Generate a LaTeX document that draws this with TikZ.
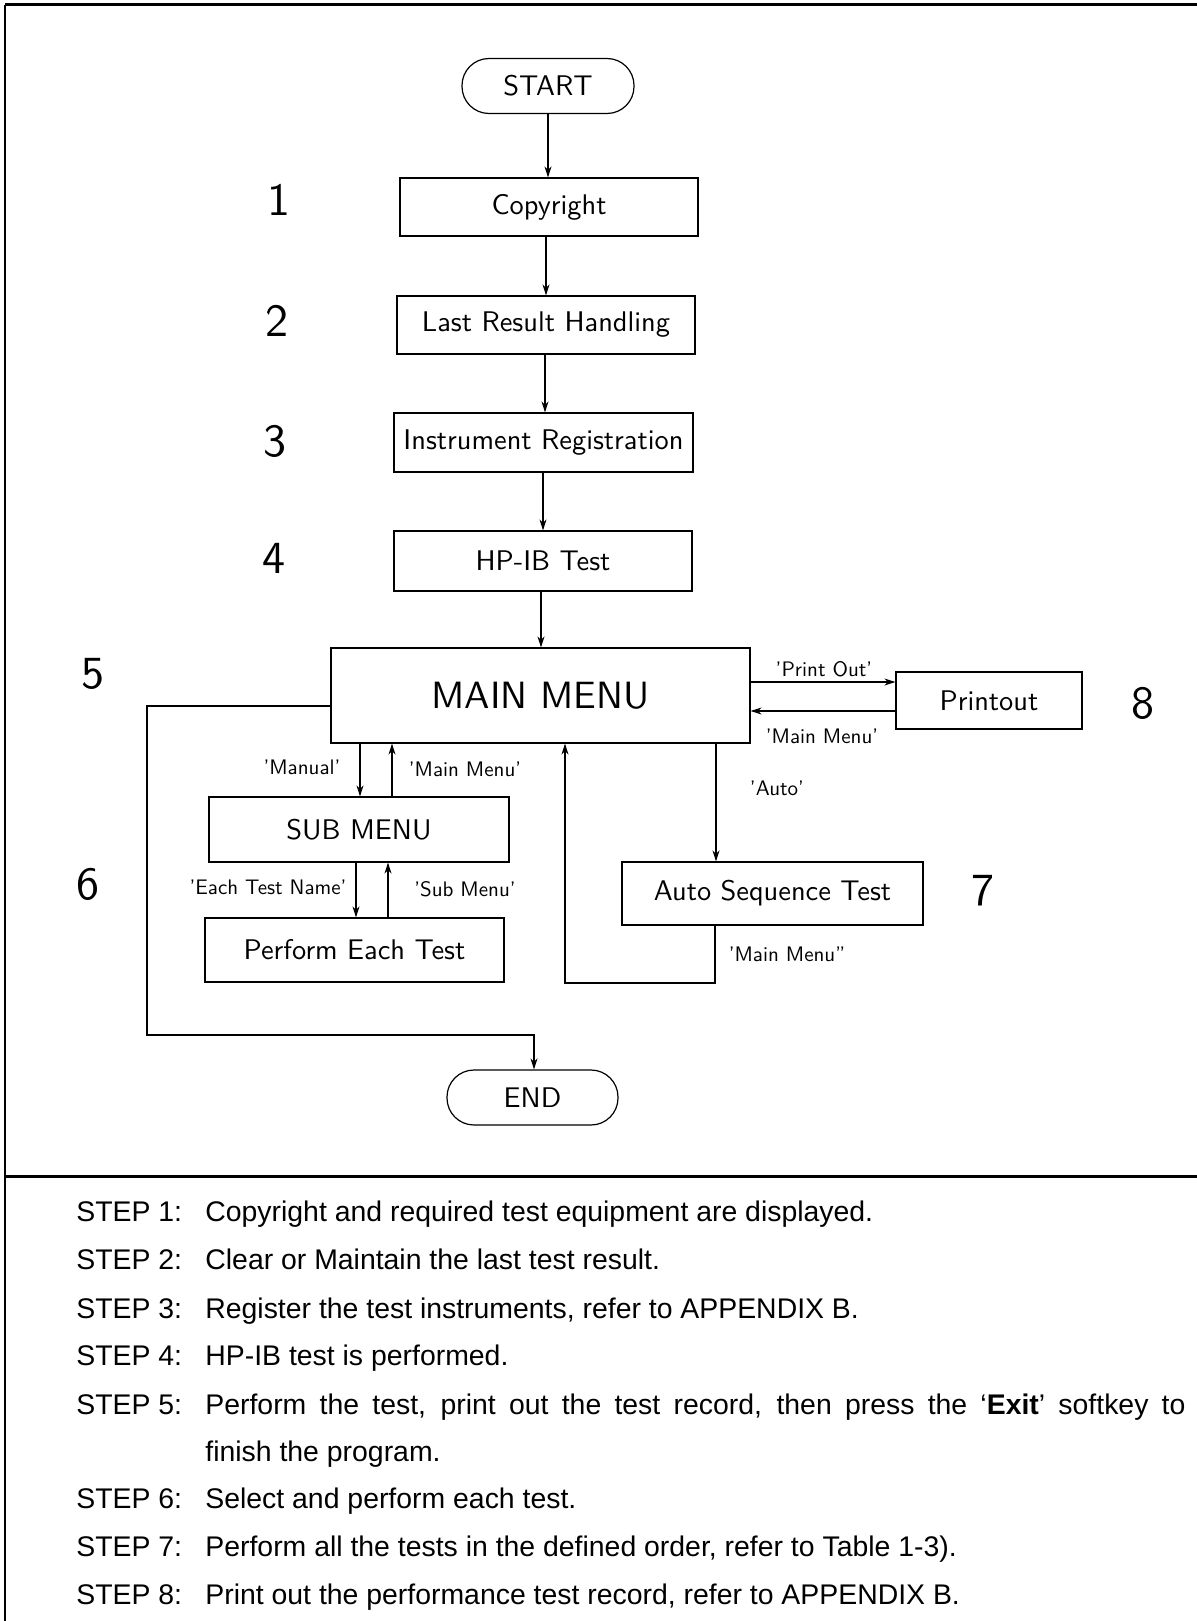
\documentclass[tikz,border=0pt]{standalone}
\usepackage{fontspec}
\setmainfont{Liberation Sans}
\newfontfamily\diag{lmsans10-regular}[Extension=.otf, Ligatures=TeX]
\usetikzlibrary{arrows.meta}
\tikzset{
  box/.style={draw, line width=0.6pt, inner sep=0pt, font=\diag\fontsize{14.2}{16}\selectfont},
  term/.style={box, rounded corners=13.5pt},
  lbl/.style={font=\diag\fontsize{10.5}{12}\selectfont, inner sep=0pt},
  num/.style={font=\diag\fontsize{23}{26}\selectfont, inner sep=0pt},
  arr/.style={-{Stealth[length=5.5pt,width=3.5pt]}, line width=0.55pt},
  stepline/.style={anchor=base west, inner sep=0pt, font=\fontsize{14.2}{17}\selectfont},
  frameline/.style={line width=1.5pt}
}
\begin{document}
\begin{tikzpicture}[x=0.5pt,y=-0.5pt]
\useasboundingbox (0,0) rectangle (1197,1621);
% frame
\draw[frameline] (5,5) -- (1197,5);
\draw[line width=1pt] (5,5) -- (5,1621);
\draw[frameline] (5,1176) -- (1197,1176);

% nodes
\node[term, minimum width=86pt, minimum height=27.5pt] (start) at (548,86) {START};
\node[box, minimum width=149pt, minimum height=29pt] (copy) at (549,207) {Copyright};
\node[box, minimum width=149pt, minimum height=29pt] (last) at (546,325) {Last Result Handling};
\node[box, minimum width=149.5pt, minimum height=29.5pt] (inst) at (543.5,442.5) {Instrument Registration};
\node[box, minimum width=149pt, minimum height=30pt] (hpib) at (543,561) {HP-IB Test};
\node[box, minimum width=209.5pt, minimum height=47.5pt, font=\diag\fontsize{19}{22}\selectfont] (main) at (540.5,695.5) {MAIN MENU};
\node[box, minimum width=93pt, minimum height=28.5pt] (print) at (989,700.5) {Printout};
\node[box, minimum width=150pt, minimum height=32.5pt] (sub) at (359,829.5) {SUB MENU};
\node[box, minimum width=149.5pt, minimum height=32pt] (pet) at (354.5,950) {Perform Each Test};
\node[box, minimum width=150.5pt, minimum height=31.5pt] (aseq) at (772.5,893.5) {Auto Sequence Test};
\node[term, minimum width=85.5pt, minimum height=27.5pt] (end) at (532.5,1097.5) {END};

% step numbers
\node[num] (n1) at (279,200) {1};
\node[num] (n2) at (277,321) {2};
\node[num] (n3) at (275,441) {3};
\node[num] (n4) at (274,558) {4};
\node[num] (n5) at (93,674) {5};
\node[num] (n6) at (88,884) {6};
\node[num] (n7) at (983,891) {7};
\node[num] (n8) at (1143,703) {8};

% main chain
\draw[arr] (start.south) -- (start.south |- copy.north);
\draw[arr] (copy.south -| 546,0) -- (last.north -| 546,0);
\draw[arr] (last.south -| 545,0) -- (inst.north -| 545,0);
\draw[arr] (inst.south -| 543,0) -- (hpib.north -| 543,0);
\draw[arr] (hpib.south -| 541,0) -- (main.north -| 541,0);

% printout
\draw[arr] (main.east |- 0,682) -- (print.west |- 0,682);
\draw[arr] (print.west |- 0,711) -- (main.east |- 0,711);
\node[lbl] (lpo) at (824,669) {'Print Out'};
\node[lbl] (lmm1) at (822,736) {'Main Menu'};

% sub menu
\draw[arr] (main.south -| 360,0) -- (sub.north -| 360,0);
\draw[arr] (sub.north -| 392,0) -- (main.south -| 392,0);
\node[lbl] (lman) at (302,767) {'Manual'};
\node[lbl] (lmm2) at (465,769) {'Main Menu'};
\draw[arr] (sub.south -| 356,0) -- (pet.north -| 356,0);
\draw[arr] (pet.north -| 388,0) -- (sub.south -| 388,0);
\node[lbl] (letn) at (268,887) {'Each Test Name'};
\node[lbl] (lsm) at (465,889) {'Sub Menu'};

% auto
\draw[arr] (main.south -| 716,0) -- (aseq.north -| 716,0);
\node[lbl] (lauto) at (777,788) {'Auto'};
\coordinate (r1) at (715,983);
\coordinate (r2) at (565,983);
\draw[arr] (aseq.south -| 715,0) -- (r1) -- (r2) -- (main.south -| 565,0);
\node[lbl] (lmm3) at (787,954) {'Main Menu''};

% exit
\coordinate (e1) at (147,706);
\coordinate (e2) at (147,1035);
\coordinate (e3) at (534,1035);
\draw[arr] (main.west |- e1) -- (e1) -- (e2) -- (e3) -- (end.north -| e3);

% steps text
\node[stepline] (st1) at (76,1221) {STEP 1:};
\node[stepline] (tx1) at (205,1221) {Copyright and required test equipment are displayed.};
\node[stepline] (st2) at (76,1269) {STEP 2:};
\node[stepline] (tx2) at (205,1269) {Clear or Maintain the last test result.};
\node[stepline] (st3) at (76,1318) {STEP 3:};
\node[stepline] (tx3) at (205,1318) {Register the test instruments, refer to APPENDIX B.};
\node[stepline] (st4) at (76,1365) {STEP 4:};
\node[stepline] (tx4) at (205,1365) {HP-IB test is performed.};
\node[stepline] (st5) at (76,1414) {STEP 5:};
\node[stepline] (tx5) at (205,1414) {\makebox[490pt][s]{Perform the test, print out the test record, then press the `\textbf{Exit}' softkey to}};
\node[stepline] (tx5b) at (205,1461) {finish the program.};
\node[stepline] (st6) at (76,1508) {STEP 6:};
\node[stepline] (tx6) at (205,1508) {Select and perform each test.};
\node[stepline] (st7) at (76,1556) {STEP 7:};
\node[stepline] (tx7) at (205,1556) {Perform all the tests in the defined order, refer to Table 1-3).};
\node[stepline] (st8) at (76,1604) {STEP 8:};
\node[stepline] (tx8) at (205,1604) {Print out the performance test record, refer to APPENDIX B.};
\end{tikzpicture}
\end{document}
